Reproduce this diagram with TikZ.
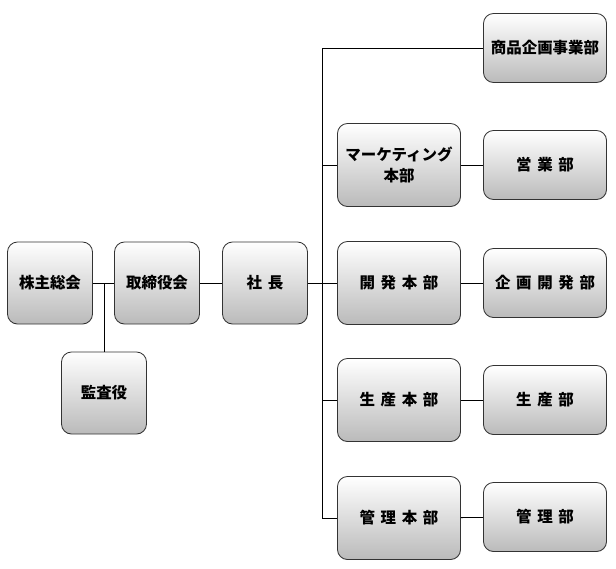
\documentclass[tikz,border=0pt]{standalone}
\usepackage{fontspec}
\newfontfamily\jp{Noto Sans CJK JP}[WordSpace=1.6]
\tikzset{
  orgbox/.style={draw=black!80, line width=0.6pt, rounded corners=0.25cm,
    top color=white, bottom color=black!27, align=center, inner sep=2pt,
    font=\jp\bfseries\fontsize{11}{15}\selectfont},
  smallbox/.style={orgbox, minimum width=2.125cm, minimum height=2.05cm},
  midbox/.style={orgbox, minimum width=3.075cm, minimum height=2.075cm},
  deptbox/.style={orgbox, minimum width=3.075cm, minimum height=1.725cm},
  link/.style={line width=0.6pt}
}
\begin{document}
\begin{tikzpicture}[x=0.025cm, y=-0.025cm]
    \useasboundingbox (0,0) rectangle (616,568);

    % Left side
    \node[smallbox] (kabunushi) at (50,283) {株主総会};
    \node[smallbox] (torishimari) at (157,283) {取締役会};
    \node[smallbox] (shacho) at (265,283) {社 長};
    \node[smallbox] (kansa) at (104,393) {監査役};

    % Head offices
    \node[midbox] (mkt) at (399,165) {マーケティング\\本部};
    \node[midbox] (kaihatsu) at (399,283) {開 発 本 部};
    \node[midbox] (seisan) at (399,400) {生 産 本 部};
    \node[midbox] (kanri) at (399,518) {管 理 本 部};

    % Departments
    \node[deptbox] (shohin) at (545,48) {商品企画事業部};
    \node[deptbox] (eigyo) at (545,165) {営 業 部};
    \node[deptbox] (kikaku) at (545,283) {企 画 開 発 部};
    \node[deptbox] (seisanbu) at (545,400) {生 産 部};
    \node[deptbox] (kanribu) at (545,517) {管 理 部};

    % Lines
    \coordinate (kj) at (104,283);
    \coordinate (trunk) at (322,283);
    \draw[link] (kabunushi) -- (torishimari);
    \draw[link] (kj) -- (kansa);
    \draw[link] (torishimari) -- (shacho);
    \draw[link] (shacho) -- (trunk);
    \draw[link] (trunk |- shohin) -- (trunk |- kanri);
    \foreach \n in {shohin, mkt, kaihatsu, seisan, kanri} {
        \draw[link] (trunk |- \n) -- (\n);
    }
    \draw[link] (mkt) -- (eigyo);
    \draw[link] (kaihatsu) -- (kikaku);
    \draw[link] (seisan) -- (seisanbu);
    \draw[link] (kanri) -- (kanribu);
\end{tikzpicture}
\end{document}
